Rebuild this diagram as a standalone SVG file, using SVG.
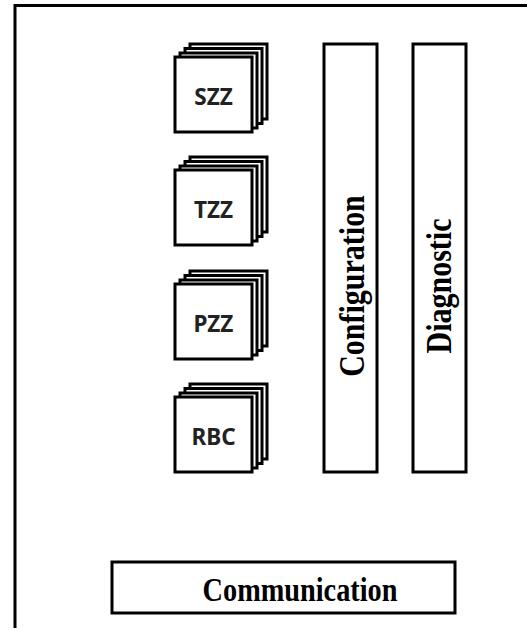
<svg xmlns="http://www.w3.org/2000/svg" width="527" height="630" viewBox="0 0 527 630">
<defs>
<style>
.box{fill:#fff;stroke:#000;stroke-width:3}
.lbl{font-family:"Noto Sans","DejaVu Sans",sans-serif;font-weight:bold;font-size:22.5px;fill:#222;text-anchor:middle}
.ser{font-family:"Liberation Serif","Times New Roman",serif;font-weight:bold;fill:#000;text-anchor:middle}
</style>
<g id="stack">
<rect class="box" x="15" y="-13" width="77" height="75"/>
<rect class="box" x="10" y="-8.5" width="77" height="75"/>
<rect class="box" x="5" y="-4" width="77" height="75"/>
<rect class="box" x="0" y="0" width="77" height="75"/>
</g>
</defs>
<rect width="527" height="630" fill="#fff"/>
<g id="frame"><path d="M15,628 V5.5 H527" fill="none" stroke="#000" stroke-width="3"/></g>
<g id="SZZ"><use href="#stack" x="175" y="57"/><text class="lbl" x="213.5" y="105">SZZ</text></g>
<g id="TZZ"><use href="#stack" x="175" y="170"/><text class="lbl" x="213.5" y="218">TZZ</text></g>
<g id="PZZ"><use href="#stack" x="175" y="284"/><text class="lbl" x="213.5" y="332">PZZ</text></g>
<g id="RBC"><use href="#stack" x="175" y="397"/><text class="lbl" x="213.5" y="445">RBC</text></g>
<g id="Configuration"><rect class="box" x="324" y="44" width="53" height="428"/><text class="ser" font-size="30" transform="translate(364,286) rotate(-90) scale(1,1.18)">Configuration</text></g>
<g id="Diagnostic"><rect class="box" x="413" y="44" width="53" height="428"/><text class="ser" font-size="30" transform="translate(451,286) rotate(-90) scale(1,1.18)">Diagnostic</text></g>
<g id="Communication"><rect class="box" x="112" y="562" width="343" height="51"/><text class="ser" font-size="28.3" transform="translate(300,601) scale(1,1.17)">Communication</text></g>
<g id="connectors"/>
</svg>
